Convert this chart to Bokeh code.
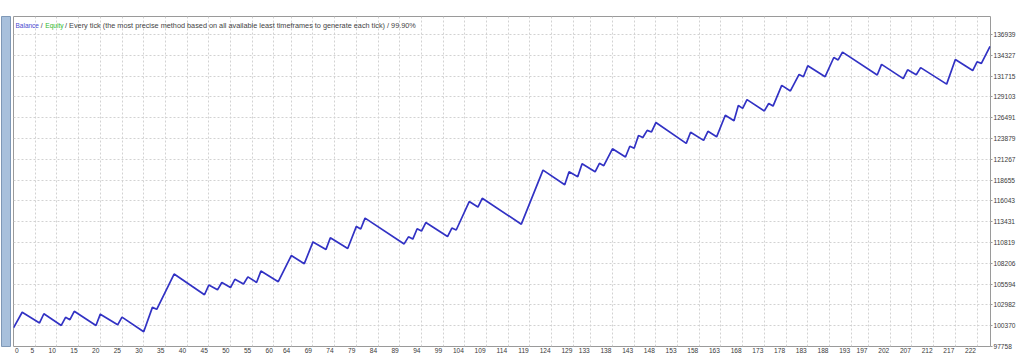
from bokeh.plotting import figure
from bokeh.models import Range1d, FixedTicker, Label, CustomJSTickFormatter
from bokeh.layouts import row
from bokeh.embed import file_html
from bokeh.resources import INLINE

# Balance curve turning points (trade index, balance)
trade_idx = [0, 2, 6, 7, 11, 12, 13, 14, 19, 20, 24, 25, 30, 32, 33, 37, 44, 45, 47, 48,
             50, 51, 53, 54, 56, 57, 61, 64, 67, 69, 72, 73, 77, 79, 80, 81, 90, 91, 92, 93,
             94, 95, 100, 101, 102, 105, 107, 108, 117, 122, 127, 128, 130, 131, 134, 135, 136, 138, 141, 142,
             143, 144, 145, 146, 147, 148, 155, 156, 159, 160, 162, 164, 166, 167, 168, 169, 173, 174, 175, 177,
             179, 181, 182, 183, 187, 189, 190, 191, 199, 200, 205, 206, 208, 209, 215, 217, 221, 222, 223, 225]
balance = [100110, 102060, 100720, 101870, 100400, 101420, 101130, 102180, 100400, 101820,
           100480, 101450, 99620, 102670, 102430, 106860, 104260, 105470, 104870, 105800,
           105160, 106200, 105600, 106500, 105800, 107230, 105890, 109180, 108160, 110890,
           109950, 111410, 110070, 112840, 112510, 113880, 110640, 111530, 111250, 112540,
           112260, 113320, 111570, 112630, 112390, 115960, 115270, 116370, 113120, 119910,
           118080, 119700, 119090, 120710, 119700, 120760, 120470, 122590, 121560, 122900,
           122660, 124250, 124000, 124900, 124700, 125880, 123270, 124660, 123640, 124780,
           124090, 126800, 126120, 128020, 127660, 128760, 127340, 128270, 127950, 130550,
           129850, 131920, 131640, 133020, 131640, 134050, 133750, 134730, 131850, 133190,
           131400, 132500, 131890, 132780, 130710, 133800, 132410, 133510, 133310, 135460]

x_tick_labels = [0, 5, 10, 15, 20, 25, 30, 35, 40, 45, 50, 55, 60, 64, 69, 74, 79, 84, 89, 94,
                 99, 104, 109, 114, 119, 124, 129, 133, 138, 143, 148, 153, 158, 163, 168, 173,
                 178, 183, 188, 193, 197, 202, 207, 212, 217, 222]
y_tick_labels = [97758, 100370, 102982, 105594, 108206, 110819, 113431, 116043, 118655,
                 121267, 123879, 126491, 129103, 131715, 134327, 136939]

title_parts = ["Balance", "/", "Equity",
               "/ Every tick (the most precise method based on all available least timeframes to generate each tick) / 99.90%"]

FONT = "Liberation Sans"
FS = 6.6
Y0, Y1 = 97758, 139200
X1 = 225.1
FRAME_W = 1013 - 2 - 34
PX_PER_X = FRAME_W / X1

# side strip of the tester window
strip = figure(width=11, height=358, output_backend="svg", toolbar_location=None,
               x_range=Range1d(0, 1), y_range=Range1d(0, 1),
               min_border_left=1, min_border_right=1, min_border_top=16, min_border_bottom=8)
strip.axis.visible = False
strip.grid.visible = False
strip.background_fill_color = "#a8c0dc"
strip.border_fill_color = "white"
strip.outline_line_color = "#7f98b6"

p = figure(width=1013, height=358, output_backend="svg", toolbar_location=None,
           x_range=Range1d(0, X1), y_range=Range1d(Y0, Y1),
           y_axis_location="right",
           min_border_left=2, min_border_right=34, min_border_top=6, min_border_bottom=12)

p.background_fill_color = "white"
p.border_fill_color = "white"
p.outline_line_color = "#9a9a9a"
p.outline_line_width = 1

# x labels sit just left of their grid line (right-aligned), first one just right of it
label_pos = []
for i, v in enumerate(x_tick_labels):
    w = len(str(v)) * 0.556 * FS
    shift_px = (w / 2 + 1.5) if i == 0 else -(w / 2 + 1.0)
    label_pos.append(v + shift_px / PX_PER_X)
p.xaxis.ticker = FixedTicker(ticks=label_pos)
p.xaxis.formatter = CustomJSTickFormatter(args=dict(labels=[str(v) for v in x_tick_labels]),
                                          code="return labels[index];")
p.yaxis.ticker = FixedTicker(ticks=y_tick_labels)
p.yaxis.major_label_overrides = {v: str(v) for v in y_tick_labels}
for ax in (p.xaxis, p.yaxis):
    ax.axis_line_color = None
    ax.major_tick_in = 0
    ax.major_tick_out = 2
    ax.major_tick_line_color = "#9a9a9a"
    ax.minor_tick_line_color = None
    ax.major_label_text_font = FONT
    ax.major_label_text_font_size = f"{FS}px"
    ax.major_label_text_color = "#3a3a3a"
    ax.major_label_standoff = 1
p.xaxis.major_tick_out = 0
p.xaxis.major_tick_line_color = None

p.xgrid.ticker = FixedTicker(ticks=x_tick_labels)
p.ygrid.ticker = FixedTicker(ticks=y_tick_labels)
for g in (p.xgrid, p.ygrid):
    g.grid_line_color = "#d2d2d2"
    g.grid_line_dash = "2 2"
    g.grid_line_width = 1

p.line(trade_idx, balance, line_color="#3232c4", line_width=1.7)

# Title texts at top-left inside the chart (canvas px -> data x)
def xd(px):
    return (px - 13.0) / PX_PER_X
ty = Y0 + (346 - 15.5) * (Y1 - Y0) / 340.0
colors = ["#4a4ad0", "#444444", "#2fb82f", "#444444"]
starts = [15.0, 40.2, 44.8, 64.5]
sizes = ["6.5px", "7px", "6.6px", "7.3px"]
for txt, c, sx, fs in zip(title_parts, colors, starts, sizes):
    p.add_layout(Label(x=xd(sx), y=ty, text=txt, text_color=c, text_font=FONT,
                       text_font_size=fs, text_baseline="alphabetic"))

open("out.html", "w").write(file_html(row(strip, p), INLINE))
